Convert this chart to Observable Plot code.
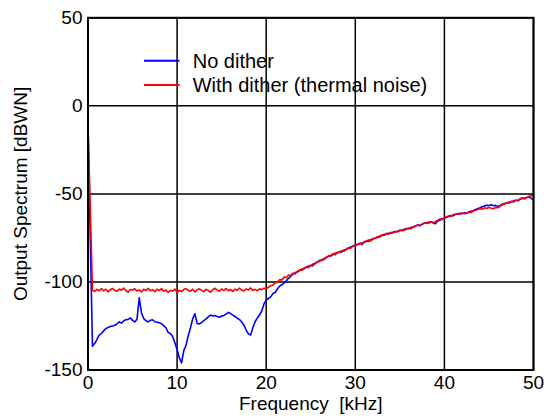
<!DOCTYPE html>
<html>
<head>
<meta charset="utf-8">
<script src="https://cdn.jsdelivr.net/npm/d3@7"></script>
<script src="https://cdn.jsdelivr.net/npm/@observablehq/plot@0.6"></script>
<style>
  body { margin: 0; background: #fff; }
  #chart svg { display: block; }
</style>
</head>
<body>
<div id="chart"></div>
<script>
// Output spectrum of the converter, one value per 0.25 kHz FFT bin from 0 to 50 kHz.
const binStepKHz = 0.25;

// Without dither (dBWN)
const noDither = [
  -10.5, -74.0, -136.5, -135.0, -132.8, -130.2, -129.3, -127.8, -126.4, -125.9,
  -125.3, -125.0, -124.6, -123.9, -122.6, -123.4, -122.2, -121.4, -121.3, -120.4,
  -121.8, -122.7, -121.2, -109.0, -117.5, -120.8, -122.0, -122.7, -121.8, -121.5,
  -122.6, -122.9, -123.2, -123.7, -124.8, -126.0, -128.7, -129.3, -131.0, -134.5,
  -138.5, -143.0, -146.0, -139.0, -136.0, -130.5, -126.0, -121.0, -118.0, -123.6,
  -123.8, -123.0, -122.0, -121.0, -119.8, -118.8, -119.3, -119.0, -119.6, -120.0,
  -119.4, -119.0, -118.3, -117.3, -117.9, -118.8, -119.6, -120.6, -121.3, -122.7,
  -124.5, -127.3, -129.5, -130.2, -126.0, -122.6, -120.5, -118.8, -116.5, -112.5,
  -110.3, -109.4, -108.5, -106.6, -106.0, -104.0, -102.4, -101.6, -100.6, -99.4,
  -97.9, -96.9, -95.6, -94.7, -94.4, -93.5, -92.7, -92.6, -91.6, -90.9,
  -90.9, -89.8, -89.6, -88.7, -87.7, -87.8, -86.7, -86.2, -85.2, -85.3,
  -84.4, -83.7, -83.6, -82.8, -82.9, -81.8, -81.6, -80.6, -80.2, -79.5,
  -79.1, -78.9, -78.3, -77.9, -77.6, -76.9, -76.8, -75.9, -75.7, -75.0,
  -74.8, -73.9, -73.6, -73.5, -72.5, -72.4, -72.3, -71.7, -71.4, -71.2,
  -70.6, -70.9, -70.1, -69.6, -69.9, -69.0, -68.9, -68.2, -67.6, -67.9,
  -67.3, -66.5, -66.6, -66.0, -65.9, -66.5, -66.9, -65.4, -64.9, -64.1,
  -63.8, -63.3, -62.8, -62.3, -62.4, -61.6, -61.4, -61.0, -61.2, -60.7,
  -60.9, -60.2, -59.8, -59.4, -58.9, -58.4, -57.9, -57.3, -56.8, -56.4,
  -56.6, -56.2, -56.7, -56.5, -57.2, -56.6, -55.9, -55.4, -55.1, -54.7,
  -54.3, -54.0, -53.6, -53.9, -53.0, -52.6, -52.3, -52.1, -51.6, -52.5,
  -53.5
];

// With dither from thermal noise (dBWN)
const withDither = [
  -10.5, -57.0, -104.6, -105.4, -104.2, -105.0, -103.8, -104.9, -104.1, -105.6,
  -104.4, -103.7, -104.8, -105.3, -104.0, -104.7, -103.5, -104.9, -105.8, -104.3,
  -104.6, -103.9, -105.1, -104.5, -105.7, -104.2, -104.8, -103.6, -105.0, -104.4,
  -105.5, -104.1, -104.9, -103.8, -105.2, -104.6, -106.0, -104.7, -105.3, -104.0,
  -105.9, -104.8, -105.4, -104.3, -103.7, -104.9, -105.2, -104.1, -105.6, -104.5,
  -103.9, -104.8, -105.5, -104.2, -104.9, -105.8, -104.4, -103.6, -104.7, -105.3,
  -104.0, -104.8, -103.7, -105.0, -104.3, -105.4, -104.1, -104.7, -103.5, -104.6,
  -105.1, -104.0, -104.5, -103.4, -104.8, -104.2, -105.0, -103.9, -104.4, -103.6,
  -103.8, -103.0, -102.2, -101.8, -100.6, -100.2, -98.7, -98.9, -97.2, -97.6,
  -96.1, -96.4, -95.0, -95.5, -94.0, -93.2, -93.4, -92.1, -91.5, -91.9,
  -90.4, -90.9, -89.2, -88.5, -88.3, -87.2, -87.4, -85.9, -85.6, -84.8,
  -84.1, -84.6, -83.2, -83.0, -82.2, -82.6, -81.2, -80.7, -80.9, -79.6,
  -79.4, -78.6, -78.0, -78.9, -77.2, -76.8, -76.2, -76.7, -75.3, -75.1,
  -74.2, -74.6, -73.3, -73.0, -72.6, -72.9, -71.8, -72.2, -71.3, -71.6,
  -70.8, -70.4, -70.7, -69.9, -69.4, -69.8, -68.7, -68.3, -67.8, -68.1,
  -67.0, -66.7, -66.3, -66.8, -65.8, -66.2, -65.6, -64.9, -64.3, -64.6,
  -63.4, -63.0, -62.4, -62.7, -61.8, -61.5, -61.1, -61.6, -60.9, -61.3,
  -60.8, -60.4, -60.6, -59.7, -59.3, -58.8, -58.4, -58.7, -57.9, -58.3,
  -57.6, -58.1, -58.4, -57.7, -57.9, -57.0, -56.2, -55.8, -54.9, -55.3,
  -54.4, -54.6, -53.7, -53.5, -52.8, -52.2, -52.9, -52.0, -51.3, -51.0,
  -50.8
];

const seriesNames = ["No dither", "With dither (thermal noise)"];
const seriesColors = ["#0000ff", "#ff0000"];
const xTicks = [0, 10, 20, 30, 40, 50];
const yTicks = [-150, -100, -50, 0, 50];
const xLabel = "Frequency\u00a0 [kHz]";
const yLabel = "Output Spectrum [dBWN]";

const toRows = (values, name) =>
  values.map((db, i) => ({ freq: i * binStepKHz, db, series: name }));
const blueRows = toRows(noDither, seriesNames[0]);
const redRows = toRows(withDither, seriesNames[1]);

const chart = Plot.plot({
  width: 550,
  height: 418,
  marginLeft: 87.5,
  marginRight: 17,
  marginTop: 17.3,
  marginBottom: 48.5,
  style: {
    fontFamily: "'Liberation Sans', Arial, sans-serif",
    fontSize: "19px",
    color: "#000",
    background: "#fff"
  },
  x: { domain: [0, 50] },
  y: { domain: [-150, 50] },
  marks: [
    Plot.gridX(xTicks, { stroke: "#000", strokeOpacity: 1, strokeWidth: 1.5 }),
    Plot.gridY(yTicks, { stroke: "#000", strokeOpacity: 1, strokeWidth: 1.5 }),
    Plot.axisX(xTicks, {
      tickSize: 0, tickPadding: 5.5, tickFormat: d => String(d),
      label: xLabel, labelAnchor: "center", labelArrow: "none", labelOffset: 40
    }),
    Plot.axisY(yTicks, {
      tickSize: 0, tickPadding: 5.5, tickFormat: d => String(d),
      label: yLabel, labelAnchor: "center", labelArrow: "none", labelOffset: 75
    }),
    Plot.line(blueRows, { x: "freq", y: "db", stroke: seriesColors[0], strokeWidth: 1.6 }),
    Plot.line(redRows, { x: "freq", y: "db", stroke: seriesColors[1], strokeWidth: 1.6 }),
    Plot.frame({ stroke: "#000", strokeWidth: 2 })
  ]
});

// Legend inside the plot area, upper left
const svg = d3.select(chart);
const legend = svg.append("g")
  .attr("font-family", "'Liberation Sans', Arial, sans-serif")
  .attr("font-size", 20)
  .attr("text-anchor", "start");
seriesNames.forEach((name, i) => {
  const yMid = 60.7 + i * 24.3;
  legend.append("line")
    .attr("x1", 144).attr("x2", 179.5)
    .attr("y1", yMid).attr("y2", yMid)
    .attr("stroke", seriesColors[i]).attr("stroke-width", 2);
  legend.append("text")
    .attr("x", 192.7).attr("y", yMid + 7)
    .attr("text-anchor", "start")
    .attr("fill", "#000")
    .text(name);
});

document.getElementById("chart").append(chart);
</script>
</body>
</html>
